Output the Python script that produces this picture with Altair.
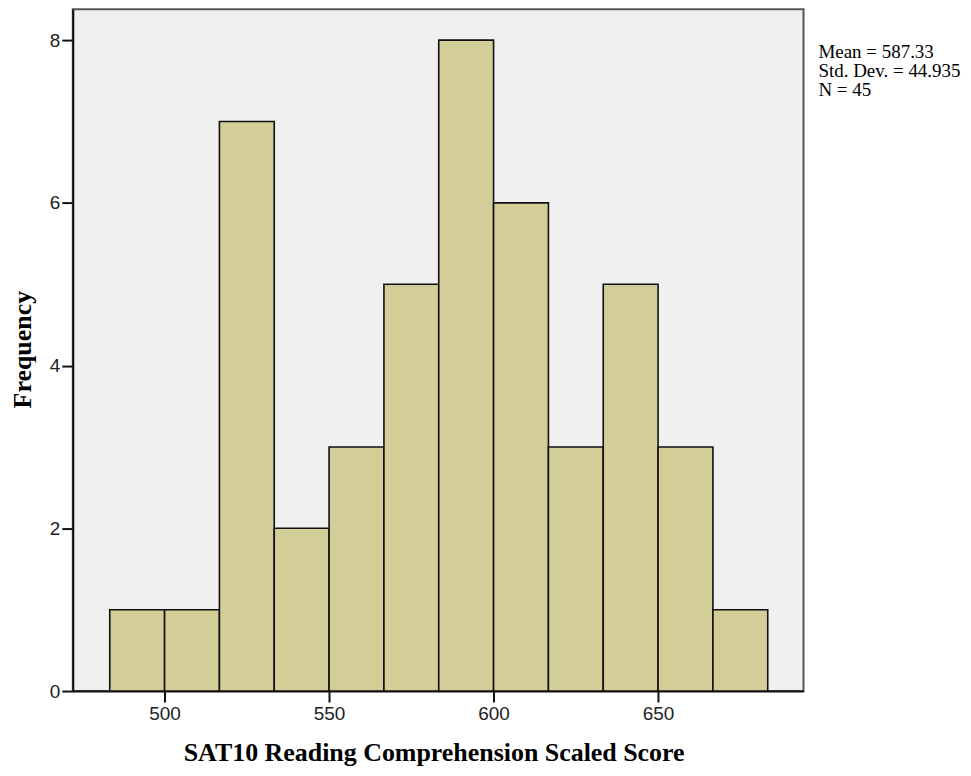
import altair as alt
import pandas as pd

# Histogram bins (SAT10 Reading Comprehension Scaled Score)
bin_start = [483.33, 500.0, 516.67, 533.33, 550.0, 566.67, 583.33, 600.0, 616.67, 633.33, 650.0, 666.67]
bin_end = [500.0, 516.67, 533.33, 550.0, 566.67, 583.33, 600.0, 616.67, 633.33, 650.0, 666.67, 683.33]
counts = [1, 1, 7, 2, 3, 5, 8, 6, 3, 5, 3, 1]

x_ticks = [500, 550, 600, 650]
y_ticks = [0, 2, 4, 6, 8]
stats_lines = ["Mean = 587.33", "Std. Dev. = 44.935", "N = 45"]

df = pd.DataFrame({"start": bin_start, "end": bin_end, "count": counts})

bars = alt.Chart(df).mark_rect(
    fill="#D3CE97", stroke="#111111", strokeWidth=1.6
).encode(
    x=alt.X(
        "start:Q",
        scale=alt.Scale(domain=[472.1, 694.2], nice=False, zero=False),
        axis=alt.Axis(
            values=x_ticks,
            title="SAT10 Reading Comprehension Scaled Score",
            grid=False,
            tickSize=11,
            tickWidth=2,
            tickColor="#111111",
            domainColor="#111111",
            domainWidth=2,
            labelFont="Liberation Sans",
            labelFontSize=19,
            labelColor="#222222",
            labelPadding=3,
            titleFont="Liberation Serif",
            titleFontSize=26,
            titleFontWeight="bold",
            titleColor="#000000",
            titleBaseline="alphabetic",
            titleX=362,
            titleY=70,
        ),
    ),
    x2="end:Q",
    y=alt.Y(
        "count:Q",
        scale=alt.Scale(domain=[0, 8.38], nice=False),
        axis=alt.Axis(
            values=y_ticks,
            title="Frequency",
            grid=False,
            tickSize=11,
            tickWidth=2,
            tickColor="#111111",
            domainColor="#111111",
            domainWidth=2,
            labelFont="Liberation Sans",
            labelFontSize=19,
            labelColor="#222222",
            labelPadding=2,
            titleFont="Liberation Serif",
            titleFontSize=26,
            titleFontWeight="bold",
            titleColor="#000000",
            titleBaseline="alphabetic",
            titleAngle=270,
            titleAlign="center",
            titleX=-42,
            titleY=341,
        ),
    ),
    y2=alt.datum(0),
)

stats = alt.Chart(pd.DataFrame({"k": [0]})).mark_text(
    text=stats_lines,
    align="left",
    baseline="alphabetic",
    font="Liberation Serif",
    fontSize=19,
    lineHeight=19,
    color="#000000",
).encode(
    x=alt.value(748),
    y=alt.value(49),
)

chart = alt.layer(bars, stats).properties(
    width=733,
    height=684,
    autosize=alt.AutoSizeParams(type="none"),
    padding={"left": 65, "top": 0, "right": 160, "bottom": 76},
).configure_view(
    fill="#F0F0F0",
    stroke="#555555",
    strokeWidth=2,
)

chart.save("out.html", embed_options={"renderer": "svg", "actions": False})
